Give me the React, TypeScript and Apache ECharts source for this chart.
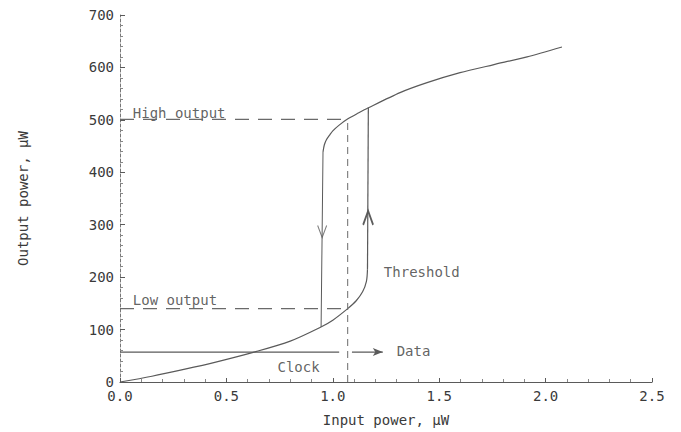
import React, { useEffect, useRef } from "react";
import * as echarts from "echarts";

// Input power (µW) vs output power (µW)
const lowerBranch: [number, number][] = [
  [0, 0], [0.15, 11], [0.3, 24], [0.45, 38], [0.63, 57], [0.8, 78], [0.94, 104],
  [1.0, 118], [1.07, 140], [1.11, 155], [1.14, 172], [1.158, 192], [1.163, 215],
];
const thresholdJump: [number, number][] = [[1.163, 215], [1.167, 523]];
const upperBranch: [number, number][] = [
  [0.954, 439], [0.96, 452], [0.97, 462], [0.987, 472], [1.0, 479], [1.03, 490],
  [1.071, 502], [1.12, 513], [1.167, 523], [1.316, 552], [1.443, 571], [1.598, 590],
  [1.753, 605], [1.913, 620], [2.077, 639],
];
const dropLine: [number, number][] = [[0.954, 439], [0.945, 105]];
const highOutputLine: [number, number][] = [[0, 501], [1.07, 501]];
const lowOutputLine: [number, number][] = [[0, 140], [1.07, 140]];
const markerLine: [number, number][] = [[1.07, 0], [1.07, 500]];
const clockLine: [number, number][] = [[0, 57], [1.03, 57]];
const dataArrow: [number, number][] = [[1.09, 57], [1.235, 57]];
const downArrowAt: [number, number] = [0.95, 287];
const upArrowAt: [number, number] = [1.166, 313];
const labels: { name: string; value: [number, number] }[] = [
  { name: "High output", value: [0.06, 513] },
  { name: "Low output", value: [0.06, 156] },
  { name: "Clock", value: [0.74, 28] },
  { name: "Data", value: [1.3, 60] },
  { name: "Threshold", value: [1.24, 210] },
];
const xRange = { min: 0, max: 2.5, interval: 0.5 };
const yRange = { min: 0, max: 700, interval: 100 };

const FONT = "DejaVu Sans Mono";
const LINE = "#5a5a5a";
const TEXT = "#3a3a3a";

export default function App() {
  const ref = useRef<HTMLDivElement>(null);
  useEffect(() => {
    if (!ref.current) return;
    const chart = echarts.init(ref.current, undefined, { renderer: "svg" });
    const solid = (data: [number, number][], smooth: number | boolean = false, width = 1.2) => ({
      type: "line",
      data,
      smooth,
      symbol: "none",
      silent: true,
      lineStyle: { color: LINE, width },
    });
    const dashed = (data: [number, number][], dash: number[], width = 1.1) => ({
      type: "line",
      data,
      symbol: "none",
      silent: true,
      lineStyle: { color: "#6a6a6a", width, type: dash },
    });
    chart.setOption({
      animation: false,
      backgroundColor: "#ffffff",
      grid: { left: 120, top: 15, right: 29, bottom: 49 },
      xAxis: {
        type: "value",
        ...xRange,
        name: "Input power, μW",
        nameLocation: "middle",
        nameGap: 31,
        nameTextStyle: { fontFamily: FONT, fontSize: 14, color: TEXT },
        axisLine: { lineStyle: { color: LINE, width: 1.2 } },
        axisTick: { inside: true, length: 4, lineStyle: { color: LINE } },
        minorTick: { show: true, splitNumber: 5, length: 3, lineStyle: { color: "#888" } },
        axisLabel: {
          fontFamily: FONT,
          fontSize: 14,
          color: TEXT,
          margin: 7,
          formatter: (v: number) => v.toFixed(1),
        },
        splitLine: { show: false },
      },
      yAxis: {
        type: "value",
        ...yRange,
        name: "Output power, μW",
        nameLocation: "middle",
        nameGap: 90,
        nameRotate: 90,
        nameTextStyle: { fontFamily: FONT, fontSize: 14, color: TEXT },
        axisLine: { show: true, lineStyle: { color: "#777", width: 1, type: [3, 2] } },
        axisTick: { show: true, inside: true, length: 5, lineStyle: { color: LINE } },
        minorTick: { show: true, splitNumber: 5, length: 3, lineStyle: { color: "#888" } },
        axisLabel: { fontFamily: FONT, fontSize: 14, color: TEXT, margin: 6 },
        splitLine: { show: false },
      },
      series: [
        solid(lowerBranch, 0.3),
        solid(thresholdJump),
        solid(upperBranch, 0.25),
        solid(dropLine, false, 1),
        dashed(highOutputLine, [14, 9]),
        dashed(lowOutputLine, [14, 9]),
        dashed(markerLine, [7, 5], 1),
        solid(clockLine, false, 1.3),
        {
          type: "line",
          data: [
            { value: dataArrow[0], symbol: "none" },
            { value: dataArrow[1], symbol: "arrow", symbolSize: [6, 10], symbolRotate: -90 },
          ],
          silent: true,
          lineStyle: { color: LINE, width: 1.3 },
          itemStyle: { color: LINE },
        },
        {
          type: "scatter",
          silent: true,
          data: [
            { value: downArrowAt, symbol: "path://M0,0L5,10L10,0", symbolSize: [9, 12] },
          ],
          itemStyle: { color: "transparent", borderColor: LINE, borderWidth: 1.2 },
        },
        {
          type: "scatter",
          silent: true,
          data: [
            { value: upArrowAt, symbol: "path://M0,10L5,0L10,10", symbolSize: [10, 14] },
          ],
          itemStyle: { color: "transparent", borderColor: "#333", borderWidth: 2 },
        },
        {
          type: "scatter",
          silent: true,
          symbolSize: 0,
          data: labels,
          label: {
            show: true,
            position: "right",
            distance: 0,
            formatter: "{b}",
            fontFamily: FONT,
            fontSize: 14,
            color: TEXT,
          },
        },
      ],
    });
    return () => chart.dispose();
  }, []);
  return (
    <div
      ref={ref}
      style={{ position: "fixed", left: 0, top: 0, width: 681, height: 432, background: "#fff" }}
    />
  );
}
